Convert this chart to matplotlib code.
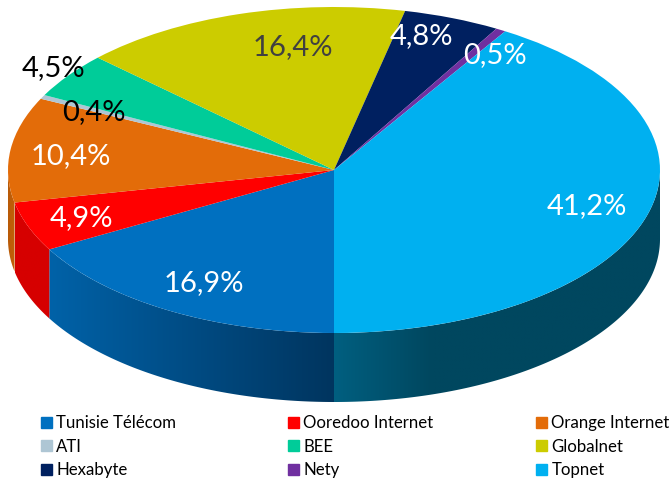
import numpy as np
import matplotlib
matplotlib.use('Agg')
import matplotlib.pyplot as plt
from matplotlib.patches import Patch, Polygon
from matplotlib.colors import to_rgb

names = ['Tunisie Télécom', 'Ooredoo Internet', 'Orange Internet', 'ATI', 'BEE',
         'Globalnet', 'Hexabyte', 'Nety', 'Topnet']
shares = [16.9, 4.9, 10.4, 0.4, 4.5, 16.4, 4.8, 0.5, 41.2]
share_labels = ['16,9%', '4,9%', '10,4%', '0,4%', '4,5%', '16,4%', '4,8%', '0,5%', '41,2%']
colors = ['#0070C0', '#FF0000', '#E36C09', '#AEC6D4', '#00CC99',
          '#CCCC00', '#002060', '#7030A0', '#00B0F0']
label_colors = ['white', 'white', 'white', 'black', 'black', '#404040', 'white', 'white', 'white']
# label centres, pixels in the image
label_x = [204, 81, 71, 94, 53, 293, 421, 495, 587]
label_y = [283, 218, 156, 112, 68, 47, 36, 55, 206]
# wall colours: slice index -> colour at its left and right end
wall_left = {0: '#0062A8', 1: '#D60000', 2: '#B85A08', 8: '#005F80'}
wall_right = {0: '#00355F', 1: '#D60000', 2: '#C46008', 8: '#00475F'}

W, H = 671, 479
cx, cy = 334, 170
rx, ry = 326, 163
depth = 69 / ry

plt.rcParams['font.family'] = ['Lato', 'DejaVu Sans']

fig = plt.figure(figsize=(W / 100, H / 100), dpi=100)
ax = fig.add_axes([0, 0, 1, 1])

# top of the pie, first slice starts at the bottom and goes clockwise
wedges, _ = ax.pie(shares, colors=colors, startangle=-90, counterclock=False, radius=1,
                   wedgeprops={'linewidth': 0, 'zorder': 3})

# side wall: gradient image cut to the shape of the wall
for i in wall_left:
    a0, a1 = wedges[i].theta1 % 360, wedges[i].theta2 % 360
    if a1 <= a0:
        a1 += 360
    lo, hi = max(a0, 180), min(a1, 360)
    th = np.radians(np.linspace(lo, hi, 200))
    xs, ys = np.cos(th), np.sin(th)
    outline = np.column_stack([np.r_[xs, xs[::-1]], np.r_[ys, ys[::-1] - depth]])
    clip = Polygon(outline, closed=True, transform=ax.transData, fc='none', ec='none')
    ax.add_patch(clip)
    c0, c1 = np.array(to_rgb(wall_left[i])), np.array(to_rgb(wall_right[i]))
    t = np.linspace(0, 1, 256)
    if i == 8:
        t = np.clip(t / 0.3, 0, 1)  # Topnet goes flat soon after the start
    grad = (c0[None, :] + t[:, None] * (c1 - c0)[None, :])[None, :, :]
    im = ax.imshow(grad, extent=[xs.min(), xs.max(), ys.min() - depth - 0.01, ys.max() + 0.01],
                   aspect='auto', interpolation='bilinear', zorder=2)
    im.set_clip_path(clip)

ax.set_aspect('auto')
ax.set_xlim(-cx / rx, (W - cx) / rx)
ax.set_ylim((cy - H) / ry, cy / ry)
ax.axis('off')

for x, y, col, txt in zip(label_x, label_y, label_colors, share_labels):
    fig.text(x / W, 1 - y / H, txt, color=col, fontsize=21, ha='center', va='center')

# legend, one per column
col_left = [38, 285, 533]
for c in range(3):
    handles = [Patch(color=colors[c + 3 * r], label=names[c + 3 * r]) for r in range(3)]
    fig.legend(handles=handles, loc='upper left', frameon=False, fontsize=12.1,
               bbox_to_anchor=(col_left[c] / W, 1 - 412 / H), borderaxespad=0, borderpad=0.2,
               handlelength=0.64, handleheight=0.64, handletextpad=0.25, labelspacing=0.44)

fig.savefig('out.png', dpi=100)
